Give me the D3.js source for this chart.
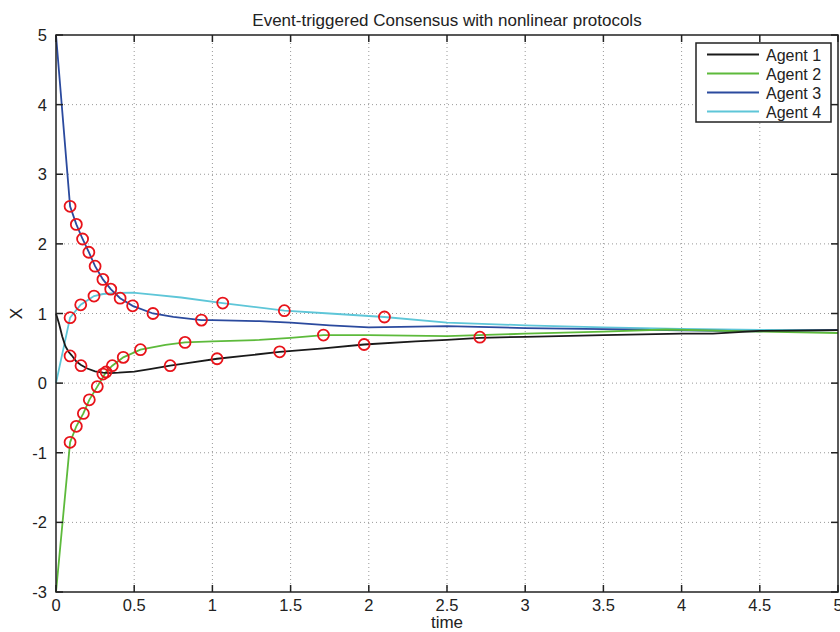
<!DOCTYPE html>
<html>
<head>
<meta charset="utf-8">
<script src="https://cdn.jsdelivr.net/npm/d3@7"></script>
<style>
  body { margin: 0; background: #fff; }
  text { font-family: "Liberation Sans", Arial, sans-serif; fill: #222; }
</style>
</head>
<body>
<div id="chart"></div>
<script>
// agent trajectories (time, state)
const agent1T = [0, 0.02, 0.04, 0.06, 0.08, 0.10, 0.13, 0.16, 0.20, 0.25, 0.30, 0.35, 0.40, 0.50, 0.60, 0.73, 0.85, 1.03, 1.20, 1.43, 1.71, 1.97, 2.30, 2.50, 2.71, 3.00, 3.50, 4.00, 4.20, 4.50, 5.00];
const agent1X = [1, 0.85, 0.67, 0.53, 0.45, 0.40, 0.31, 0.26, 0.21, 0.17, 0.15, 0.145, 0.15, 0.165, 0.20, 0.25, 0.29, 0.35, 0.39, 0.45, 0.50, 0.555, 0.60, 0.62, 0.65, 0.665, 0.69, 0.71, 0.71, 0.75, 0.76];

const agent2T = [0, 0.09, 0.13, 0.175, 0.213, 0.264, 0.32, 0.36, 0.43, 0.54, 0.70, 0.825, 1.00, 1.30, 1.50, 1.71, 2.00, 2.50, 3.00, 3.50, 3.90, 4.50, 5.00];
const agent2X = [-3, -0.85, -0.62, -0.435, -0.24, -0.05, 0.16, 0.25, 0.37, 0.48, 0.55, 0.585, 0.60, 0.62, 0.65, 0.69, 0.69, 0.675, 0.71, 0.74, 0.77, 0.74, 0.72];

const agent3T = [0, 0.09, 0.13, 0.17, 0.21, 0.25, 0.30, 0.35, 0.41, 0.49, 0.62, 0.75, 0.93, 1.00, 1.30, 1.50, 1.75, 2.00, 2.50, 3.00, 3.50, 4.00, 4.50, 5.00];
const agent3X = [5, 2.54, 2.28, 2.07, 1.88, 1.68, 1.49, 1.35, 1.22, 1.11, 1.00, 0.95, 0.905, 0.905, 0.89, 0.87, 0.83, 0.80, 0.82, 0.79, 0.775, 0.757, 0.745, 0.76];

const agent4T = [0, 0.09, 0.158, 0.243, 0.30, 0.40, 0.49, 0.62, 0.80, 1.066, 1.25, 1.46, 1.75, 2.10, 2.50, 3.00, 3.50, 4.00, 4.50, 5.00];
const agent4X = [0, 0.94, 1.125, 1.25, 1.28, 1.295, 1.30, 1.27, 1.23, 1.15, 1.10, 1.04, 1.00, 0.95, 0.87, 0.83, 0.80, 0.78, 0.765, 0.76];

// event (trigger) instants, drawn as red circles
const event1 = [[0.09, 0.39], [0.16, 0.25], [0.30, 0.13], [0.73, 0.25], [1.03, 0.35], [1.43, 0.45], [1.97, 0.555], [2.71, 0.66]];
const event2 = [[0.09, -0.85], [0.13, -0.62], [0.175, -0.435], [0.213, -0.24], [0.264, -0.05], [0.32, 0.16], [0.36, 0.25], [0.43, 0.37], [0.54, 0.48], [0.825, 0.585], [1.71, 0.69]];
const event3 = [[0.09, 2.54], [0.13, 2.28], [0.17, 2.07], [0.21, 1.88], [0.25, 1.68], [0.30, 1.49], [0.35, 1.35], [0.41, 1.22], [0.49, 1.11], [0.62, 1.00], [0.93, 0.905]];
const event4 = [[0.09, 0.94], [0.158, 1.125], [0.243, 1.25], [1.066, 1.15], [1.46, 1.04], [2.10, 0.95]];

const agentNames = ["Agent 1", "Agent 2", "Agent 3", "Agent 4"];
const agentColors = ["#1a1a1a", "#5dba3b", "#2b4a9e", "#5ec6d8"];
const xTicks = [0, 0.5, 1, 1.5, 2, 2.5, 3, 3.5, 4, 4.5, 5];
const yTicks = [-3, -2, -1, 0, 1, 2, 3, 4, 5];

const width = 840, height = 632;
const margin = {left: 56, right: 2, top: 35, bottom: 40};

const svg = d3.select('#chart').append('svg')
    .attr('width', width)
    .attr('height', height);

const x = d3.scaleLinear().domain([0, 5]).range([margin.left, width - margin.right]);
const y = d3.scaleLinear().domain([-3, 5]).range([height - margin.bottom, margin.top]);

// grid
let grid = svg.append('g').attr('stroke', '#999').attr('stroke-width', 1).attr('stroke-dasharray', '1,3');
grid.selectAll('.gx').data(xTicks.slice(1, -1)).join('line')
    .attr('x1', d => x(d)).attr('x2', d => x(d))
    .attr('y1', y(-3)).attr('y2', y(5));
grid.selectAll('.gy').data(yTicks.slice(1, -1)).join('line')
    .attr('x1', x(0)).attr('x2', x(5))
    .attr('y1', d => y(d)).attr('y2', d => y(d));

// curves
const series = [
    {t: agent1T, v: agent1X, ev: event1},
    {t: agent2T, v: agent2X, ev: event2},
    {t: agent3T, v: agent3X, ev: event3},
    {t: agent4T, v: agent4X, ev: event4}
];
const line = d3.line().x(d => x(d[0])).y(d => y(d[1]));

// drawn in reverse so agent 1 ends up on top like matlab draws it
series.slice().reverse().forEach((s, k) => {
    let i = series.length - 1 - k;
    let pts = s.t.map((t, j) => [t, s.v[j]]);
    svg.append('path')
        .datum(pts)
        .attr('d', line)
        .attr('fill', 'none')
        .attr('stroke', agentColors[i])
        .attr('stroke-width', 1.8);
});

series.forEach(s => {
    svg.append('g').selectAll('circle')
        .data(s.ev)
        .join('circle')
        .attr('cx', d => x(d[0]))
        .attr('cy', d => y(d[1]))
        .attr('r', 5.5)
        .attr('fill', 'none')
        .attr('stroke', '#e8131a')
        .attr('stroke-width', 1.8);
});

// axes box with inward ticks on all sides
const tickLen = 7;
let ax = svg.append('g').attr('stroke', '#222').attr('stroke-width', 1.5);
ax.append('rect')
    .attr('x', x(0)).attr('y', y(5))
    .attr('width', x(5) - x(0)).attr('height', y(-3) - y(5))
    .attr('fill', 'none');
xTicks.forEach(t => {
    ax.append('line').attr('x1', x(t)).attr('x2', x(t)).attr('y1', y(-3)).attr('y2', y(-3) - tickLen);
    ax.append('line').attr('x1', x(t)).attr('x2', x(t)).attr('y1', y(5)).attr('y2', y(5) + tickLen);
});
yTicks.forEach(v => {
    ax.append('line').attr('x1', x(0)).attr('x2', x(0) + tickLen).attr('y1', y(v)).attr('y2', y(v));
    ax.append('line').attr('x1', x(5)).attr('x2', x(5) - tickLen).attr('y1', y(v)).attr('y2', y(v));
});

svg.append('g').selectAll('text')
    .data(xTicks)
    .join('text')
    .attr('x', d => x(d))
    .attr('y', y(-3) + 19)
    .attr('text-anchor', 'middle')
    .style('font-size', '16.5px')
    .text(d => d);

svg.append('g').selectAll('text')
    .data(yTicks)
    .join('text')
    .attr('x', x(0) - 9)
    .attr('y', d => y(d) + 6)
    .attr('text-anchor', 'end')
    .style('font-size', '16.5px')
    .text(d => d);

svg.append('text')
    .attr('x', (x(0) + x(5)) / 2)
    .attr('y', 26)
    .attr('text-anchor', 'middle')
    .style('font-size', '17px')
    .text('Event-triggered Consensus with nonlinear protocols');

svg.append('text')
    .attr('x', (x(0) + x(5)) / 2)
    .attr('y', 628)
    .attr('text-anchor', 'middle')
    .style('font-size', '17px')
    .text('time');

svg.append('text')
    .attr('transform', `translate(22, ${(y(-3) + y(5)) / 2}) rotate(-90)`)
    .attr('text-anchor', 'middle')
    .style('font-size', '17px')
    .text('X');

// legend
let legend = svg.append('g').attr('transform', 'translate(696, 43)');
legend.append('rect')
    .attr('width', 135).attr('height', 79)
    .attr('fill', '#fff')
    .attr('stroke', '#222').attr('stroke-width', 1.5);
agentNames.forEach((name, i) => {
    let ly = 11.5 + i * 19;
    legend.append('line')
        .attr('x1', 11).attr('x2', 63)
        .attr('y1', ly).attr('y2', ly)
        .attr('stroke', agentColors[i]).attr('stroke-width', 1.8);
    legend.append('text')
        .attr('x', 70).attr('y', ly + 6)
        .style('font-size', '16px')
        .text(name);
});
</script>
</body>
</html>
